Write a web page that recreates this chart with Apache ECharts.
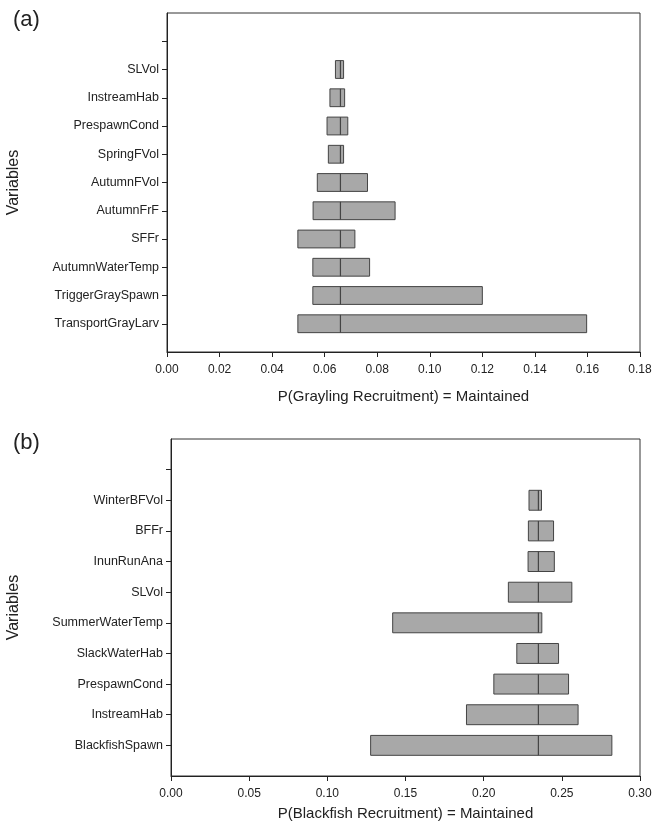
<!DOCTYPE html>
<html>
<head>
<meta charset="utf-8">
<script src="https://cdn.jsdelivr.net/npm/echarts@6/dist/echarts.min.js"></script>
<style>
  html, body { margin: 0; padding: 0; background: #fff; }
  #chart { width: 653px; height: 830px; }
</style>
</head>
<body>
<div id="chart"></div>
<script>
// panel (a) - grayling, listed bottom to top
const graylingVars = ['TransportGrayLarv', 'TriggerGraySpawn', 'AutumnWaterTemp', 'SFFr', 'AutumnFrF',
  'AutumnFVol', 'SpringFVol', 'PrespawnCond', 'InstreamHab', 'SLVol'];
const graylingLow = [0.0498, 0.0555, 0.0555, 0.0498, 0.0556, 0.0572, 0.0614, 0.0609, 0.0620, 0.0641];
const graylingHigh = [0.1597, 0.1200, 0.0771, 0.0715, 0.0868, 0.0763, 0.0672, 0.0688, 0.0676, 0.0672];
const graylingBase = 0.066;
const graylingTicks = [0, 0.02, 0.04, 0.06, 0.08, 0.10, 0.12, 0.14, 0.16, 0.18];

// panel (b) - blackfish, listed bottom to top
const blackfishVars = ['BlackfishSpawn', 'InstreamHab', 'PrespawnCond', 'SlackWaterHab', 'SummerWaterTemp',
  'SLVol', 'InunRunAna', 'BFFr', 'WinterBFVol'];
const blackfishLow = [0.1277, 0.1890, 0.2065, 0.2212, 0.1418, 0.2158, 0.2284, 0.2286, 0.2290];
const blackfishHigh = [0.2820, 0.2604, 0.2543, 0.2479, 0.2372, 0.2564, 0.2452, 0.2447, 0.2370];
const blackfishBase = 0.235;
const blackfishTicks = [0, 0.05, 0.10, 0.15, 0.20, 0.25, 0.30];

const font = 'Liberation Sans, Arial, sans-serif';
const txt = '#222';

// empty slot at the axis, one empty tick on top, one slot to the frame
function cats(vars) {
  return [''].concat(vars, ['', '']);
}
function rows(low, high) {
  return low.map((l, i) => [l, high[i], i + 1]);
}

function tornado(base, ratio) {
  return function (params, api) {
    const y = api.value(2);
    const p0 = api.coord([api.value(0), y]);
    const p1 = api.coord([api.value(1), y]);
    const pb = api.coord([base, y]);
    const h = api.size([0, 1])[1] * ratio;
    return {
      type: 'group',
      children: [
        {
          type: 'rect',
          shape: { x: p0[0], y: p0[1] - h / 2, width: p1[0] - p0[0], height: h },
          style: { fill: '#a8a8a8', stroke: '#444', lineWidth: 1 }
        },
        {
          type: 'line',
          shape: { x1: pb[0], y1: pb[1] - h / 2, x2: pb[0], y2: pb[1] + h / 2 },
          style: { stroke: '#444', lineWidth: 1.2 }
        }
      ]
    };
  };
}

function xAxisOf(gridIndex, ticks, name, gap) {
  return {
    type: 'value',
    gridIndex: gridIndex,
    min: ticks[0],
    max: ticks[ticks.length - 1],
    interval: ticks[1] - ticks[0],
    name: name,
    nameLocation: 'middle',
    nameGap: gap,
    nameTextStyle: { fontFamily: font, fontSize: 15, color: txt },
    axisLine: { show: true, lineStyle: { color: '#222' } },
    axisTick: { show: true, length: 5, lineStyle: { color: '#222' } },
    axisLabel: { fontFamily: font, fontSize: 12, color: txt, margin: 12,
      formatter: v => v.toFixed(2) },
    splitLine: { show: false }
  };
}

function yAxisOf(gridIndex, vars, gap) {
  const data = cats(vars);
  const last = data.length - 1;
  return {
    type: 'category',
    gridIndex: gridIndex,
    data: data,
    boundaryGap: false,
    name: 'Variables',
    nameLocation: 'middle',
    nameGap: gap,
    nameRotate: 90,
    nameTextStyle: { fontFamily: font, fontSize: 16, color: txt },
    axisLine: { show: true, lineStyle: { color: '#222' } },
    axisTick: { show: true, length: 5, interval: (i) => i > 0 && i < last, lineStyle: { color: '#222' } },
    axisLabel: { fontFamily: font, fontSize: 12.5, color: txt, margin: 8, interval: 0 },
    splitLine: { show: false }
  };
}

const chart = echarts.init(document.getElementById('chart'), null, { renderer: 'canvas' });
chart.setOption({
  backgroundColor: '#fff',
  animation: false,
  title: [
    { text: '(a)', left: 8, top: 4, textStyle: { fontFamily: font, fontSize: 22, fontWeight: 'normal', color: txt } },
    { text: '(b)', left: 8, top: 427, textStyle: { fontFamily: font, fontSize: 22, fontWeight: 'normal', color: txt } }
  ],
  grid: [
    { left: 167, right: 13, top: 13, height: 339, show: true, borderColor: '#333', borderWidth: 1,
      outerBoundsMode: 'none' },
    { left: 171, right: 13, top: 439, height: 337, show: true, borderColor: '#333', borderWidth: 1,
      outerBoundsMode: 'none' }
  ],
  xAxis: [
    xAxisOf(0, graylingTicks, 'P(Grayling Recruitment) = Maintained', 37),
    xAxisOf(1, blackfishTicks, 'P(Blackfish Recruitment) = Maintained', 30)
  ],
  yAxis: [
    yAxisOf(0, graylingVars, 145),
    yAxisOf(1, blackfishVars, 149)
  ],
  series: [
    {
      type: 'custom',
      xAxisIndex: 0,
      yAxisIndex: 0,
      renderItem: tornado(graylingBase, 0.63),
      encode: { x: [0, 1], y: 2 },
      data: rows(graylingLow, graylingHigh)
    },
    {
      type: 'custom',
      xAxisIndex: 1,
      yAxisIndex: 1,
      renderItem: tornado(blackfishBase, 0.65),
      encode: { x: [0, 1], y: 2 },
      data: rows(blackfishLow, blackfishHigh)
    }
  ]
});
</script>
</body>
</html>
